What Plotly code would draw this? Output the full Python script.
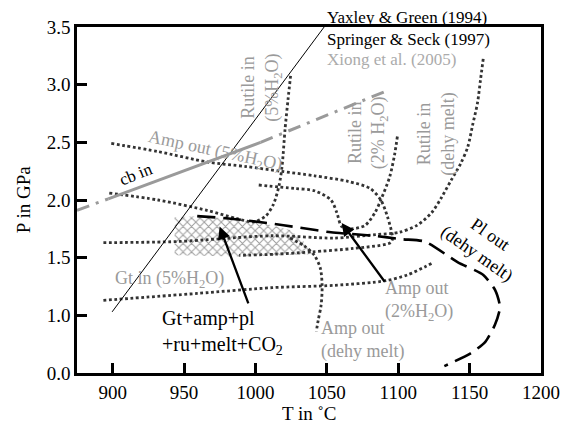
import plotly.graph_objects as go

FONT = "Liberation Serif"

# ---------------- data (T in C, P in GPa) ----------------
# Springer & Seck (1997) dotted boundaries
rut5_T = [897.6, 931.8, 966.0, 986.5, 998.8, 1007.1, 1012.5, 1016.6, 1018.7, 1020.7, 1022.8, 1024.8]
rut5_P = [2.06, 2.00, 1.91, 1.84, 1.81, 1.86, 1.96, 2.13, 2.30, 2.61, 2.87, 3.10]

amp5_T = [899.0, 931.8, 966.0, 993.4, 1017.3, 1041.3, 1065.2, 1080.3, 1087.8, 1092.6, 1096.0,
          1094.6, 1068.6, 1039.2, 1013.9, 988.6]
amp5_P = [2.49, 2.42, 2.33, 2.29, 2.25, 2.21, 2.16, 2.10, 2.00, 1.85, 1.67,
          1.63, 1.58, 1.55, 1.53, 1.52]

rutdm_T = [893.5, 945.5, 1011.8, 1055.0, 1084.4, 1100.8, 1113.1, 1123.4, 1130.2, 1137.0,
           1143.9, 1148.7, 1152.1, 1155.5, 1157.6, 1159.6]
rutdm_P = [1.63, 1.64, 1.69, 1.67, 1.70, 1.72, 1.78, 1.89, 2.02, 2.17,
           2.32, 2.46, 2.65, 2.84, 3.04, 3.23]

rut2_T = [1002.3, 1027.6, 1041.3, 1052.9, 1057.0, 1060.4, 1067.3, 1076.8, 1083.7, 1087.8,
          1094.0, 1097.4, 1099.4]
rut2_P = [2.13, 2.10, 2.08, 2.00, 1.89, 1.77, 1.75, 1.78, 1.89, 2.00,
          2.20, 2.39, 2.55]

ampdm_T = [1024.2, 1034.4, 1041.3, 1045.4, 1046.7, 1046.0, 1044.0, 1042.6]
ampdm_P = [1.67, 1.60, 1.52, 1.41, 1.26, 1.09, 0.96, 0.86]

gt5_T = [893.5, 959.2, 1011.8, 1055.0, 1091.2, 1106.3, 1118.6, 1123.4]
gt5_P = [1.13, 1.19, 1.24, 1.26, 1.30, 1.35, 1.42, 1.45]

# Pl out (dehy melt) dashed
plout_T = [959.2, 981.1, 1008.4, 1031.0, 1052.9, 1082.3, 1102.8, 1118.6, 1141.8, 1159.6,
           1167.8, 1171.3, 1167.8, 1161.0, 1150.7, 1132.3]
plout_P = [1.86, 1.84, 1.80, 1.76, 1.72, 1.69, 1.66, 1.64, 1.46, 1.35,
           1.22, 1.07, 0.92, 0.77, 0.67, 0.56]

# Yaxley & Green (1994) thin line
yg_T = [899.6, 1048.1]
yg_P = [1.03, 3.50]

# cb in (solid grey) and Xiong et al. dash-dot extensions
cb_T = [896.9, 1003.6]
cb_P = [2.01, 2.50]
xiL_T = [875.0, 896.9]
xiL_P = [1.91, 2.01]
xiR_T = [1003.6, 1092.6]
xiR_P = [2.50, 2.95]

# hatched field Gt+amp+pl+ru+melt+CO2
hatch_T = [943.4, 959.2, 981.1, 1008.4, 1024.2, 1033.1, 1039.9, 988.6, 943.4, 943.4]
hatch_P = [1.85, 1.86, 1.84, 1.79, 1.74, 1.65, 1.53, 1.51, 1.52, 1.85]

# axis ticks
x_ticks = [900, 950, 1000, 1050, 1100, 1150, 1200]
y_tickvals = [0.5, 1.0, 1.5, 2.0, 2.5, 3.0, 3.5]
y_ticktext = ["0.0", "1.0", "1.5", "2.0", "2.5", "3.0", "3.5"]

# ---------------- figure ----------------
DOT = "#333333"
GREY = "#9a9a9a"

fig = go.Figure()

fig.add_trace(go.Scatter(
    x=hatch_T, y=hatch_P, mode="lines", line=dict(width=0),
    fill="toself", fillcolor="rgba(0,0,0,0)",
    fillpattern=dict(shape="x", size=6, solidity=0.3, fgcolor="#9c9c9c",
                     bgcolor="rgba(255,255,255,0)", fillmode="replace"),
    hoverinfo="skip"))

for tx, ty in [(rut5_T, rut5_P), (amp5_T, amp5_P), (rutdm_T, rutdm_P),
               (rut2_T, rut2_P), (ampdm_T, ampdm_P), (gt5_T, gt5_P)]:
    fig.add_trace(go.Scatter(x=tx, y=ty, mode="lines", line_shape="spline",
                             line=dict(color=DOT, width=2.8, dash="2.8px,2.6px", smoothing=0.8)))

fig.add_trace(go.Scatter(x=plout_T, y=plout_P, mode="lines", line_shape="spline",
                         line=dict(color="black", width=2.6, dash="18px,8px", smoothing=0.6)))

fig.add_trace(go.Scatter(x=yg_T, y=yg_P, mode="lines", line=dict(color="black", width=1)))

fig.add_trace(go.Scatter(x=cb_T, y=cb_P, mode="lines", line=dict(color=GREY, width=3)))
for tx, ty in [(xiL_T, xiL_P), (xiR_T, xiR_P)]:
    fig.add_trace(go.Scatter(x=tx, y=ty, mode="lines",
                             line=dict(color=GREY, width=3, dash="13px,7px,3px,7px")))

ann = []

def txt(x, y, s, size=18, color=GREY, angle=0, align="center", xanchor="center", ref="data"):
    r = "x" if ref == "data" else "paper"
    ann.append(dict(x=x, y=y, xref=r, yref=("y" if ref == "data" else "paper"), text=s,
                    showarrow=False, textangle=angle, align=align, xanchor=xanchor,
                    yanchor="middle", font=dict(family=FONT, size=size, color=color)))

txt(971.5, 2.42, "Amp out (5%H<sub>2</sub>O)", angle=12)
txt(916.1, 2.22, "cb in", color="black", angle=-22, size=17)
txt(1004.3, 2.97, "Rutile in<br>(5%H<sub>2</sub>O)", angle=-90)
txt(1078.9, 2.58, "Rutile in<br>(2% H<sub>2</sub>O)", angle=-90)
txt(1126.8, 2.57, "Rutile in<br>(dehy melt)", angle=-90)
txt(1159.6, 1.62, "Pl out<br>(dehy melt)", color="black", angle=35)
txt(940.0, 1.31, "Gt in (5%H<sub>2</sub>O)")
txt(1089.2, 1.12, "Amp out<br>(2%H<sub>2</sub>O)", align="left", xanchor="left")
txt(1044.7, 0.79, "Amp out<br>(dehy melt)", align="left", xanchor="left")
txt(933.2, 0.85, "Gt+amp+pl<br>+ru+melt+CO<sub>2</sub>", size=20, color="black",
    align="left", xanchor="left")

# source key (paper coords, top of frame)
txt(0.535, 1.027, "<u>Yaxley &amp; Green (1994)</u>", size=17, color="black",
    align="left", xanchor="left", ref="paper")
txt(0.535, 0.965, "Springer &amp; Seck (1997)", size=17, color="black",
    align="left", xanchor="left", ref="paper")
txt(0.535, 0.905, "Xiong et al. (2005)", size=17, color="#ababab",
    align="left", xanchor="left", ref="paper")

# arrows
for hx, hy, tx_, ty_ in [(974.9, 1.77, 995.4, 1.09), (1060.4, 1.80, 1091.2, 1.28)]:
    ann.append(dict(x=hx, y=hy, ax=tx_, ay=ty_, xref="x", yref="y", axref="x", ayref="y",
                    text="", showarrow=True, arrowhead=2, arrowsize=1.1, arrowwidth=2.3,
                    arrowcolor="black"))

# axis titles
ann.append(dict(x=-0.116, y=0.5, xref="paper", yref="paper", text="P in GPa", showarrow=False,
                xanchor="center", yanchor="middle",
                textangle=-90, font=dict(family=FONT, size=19, color="black")))
ann.append(dict(x=0.501, y=-0.116, xref="paper", yref="paper", text="T in ˚C", showarrow=False,
                xanchor="center", yanchor="middle",
                font=dict(family=FONT, size=19, color="black")))

axis_common = dict(showgrid=False, zeroline=False, showline=True, mirror=True,
                   linewidth=2.5, linecolor="black", ticks="inside", ticklen=10,
                   tickwidth=2.5, tickcolor="black",
                   tickfont=dict(family=FONT, size=19, color="black"))

fig.update_layout(
    width=572, height=429,
    margin=dict(l=77, r=20, t=27, b=56),
    paper_bgcolor="white", plot_bgcolor="white",
    showlegend=False,
    annotations=ann,
    xaxis=dict(range=[875, 1200], tickvals=x_ticks, **axis_common),
    yaxis=dict(range=[0.5, 3.5], tickvals=y_tickvals, ticktext=y_ticktext, **axis_common),
)

fig.write_html("out.html", config={"displayModeBar": False},
               post_script="document.body.style.margin='0px';")
